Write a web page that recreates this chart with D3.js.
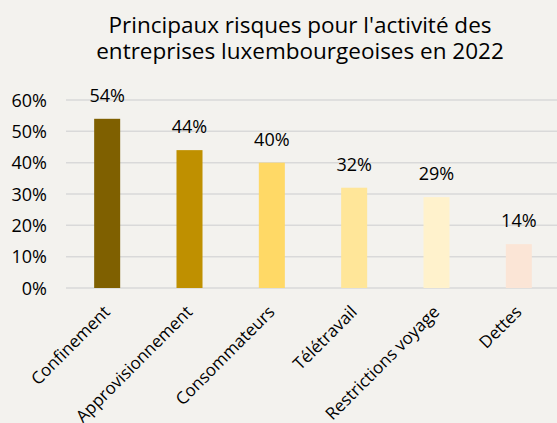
<!DOCTYPE html>
<html><head><meta charset="utf-8">
<script src="https://cdn.jsdelivr.net/npm/d3@7"></script>
<style>
html,body{margin:0;padding:0;background:#F3F2EE;}
svg{display:block;font-family:"Open Sans",sans-serif;}
</style></head>
<body>
<svg id="chart" width="557" height="423"></svg>
<script>
const categories = ["Confinement","Approvisionnement","Consommateurs","Télétravail","Restrictions voyage","Dettes"];
const values = [54,44,40,32,29,14];
const colors = ["#7F6000","#BF9000","#FFD966","#FFE699","#FFF2CC","#FBE5D6"];
const yTicks = [0,10,20,30,40,50,60];
const titleLines = ["Principaux risques pour l'activité des","entreprises luxembourgeoises en 2022"];

const svg = d3.select("#chart");
svg.append("rect").attr("width",557).attr("height",423).attr("fill","#F3F2EE");

const x = d3.scaleBand().domain(categories).range([66,560]).paddingInner(0.684).paddingOuter(0.342);
const y = d3.scaleLinear().domain([0,60]).range([288,100]);

// gridlines
svg.append("g").selectAll("line").data(yTicks).join("line")
  .attr("x1",66).attr("x2",557)
  .attr("y1",d=>y(d)).attr("y2",d=>y(d))
  .attr("stroke","#D9D9D9").attr("stroke-width",1.5);

// y axis labels
const yAxis = d3.axisLeft(y).tickValues(yTicks).tickFormat(d=>d+"%").tickSize(0).tickPadding(0);
const ya = svg.append("g").attr("transform","translate(47,0)").call(yAxis);
ya.select(".domain").remove();
ya.selectAll("text").attr("font-size",18).attr("fill","#000").attr("font-family","'Open Sans',sans-serif").attr("dy","0.35em");

// bars
svg.append("g").selectAll("rect").data(values).join("rect")
  .attr("x",(d,i)=>x(categories[i]))
  .attr("width",x.bandwidth())
  .attr("y",d=>y(d))
  .attr("height",d=>y(0)-y(d))
  .attr("fill",(d,i)=>colors[i]);

// value labels
svg.append("g").selectAll("text").data(values).join("text")
  .attr("x",(d,i)=>x(categories[i])+x.bandwidth()/2)
  .attr("y",d=>y(d)-17)
  .attr("text-anchor","middle")
  .attr("font-size",18).attr("fill","#000")
  .text(d=>d+"%");

// x axis
const xAxis = d3.axisBottom(x).tickSize(0).tickPadding(0);
const xa = svg.append("g").attr("transform","translate(0,288)").call(xAxis);
xa.select(".domain").remove();
xa.selectAll("text")
  .attr("font-size",17).attr("fill","#000").attr("font-family","'Open Sans',sans-serif")
  .attr("text-anchor","end")
  .attr("dy",null).attr("y",0)
  .attr("transform","translate(4,25) rotate(-45)");

// title
const title = svg.append("g").attr("font-size",22.5).attr("fill","#000").attr("text-anchor","middle");
title.selectAll("text").data(titleLines).join("text")
  .attr("x",300).attr("y",(d,i)=>33+i*26).text(d=>d);
</script>
</body></html>
